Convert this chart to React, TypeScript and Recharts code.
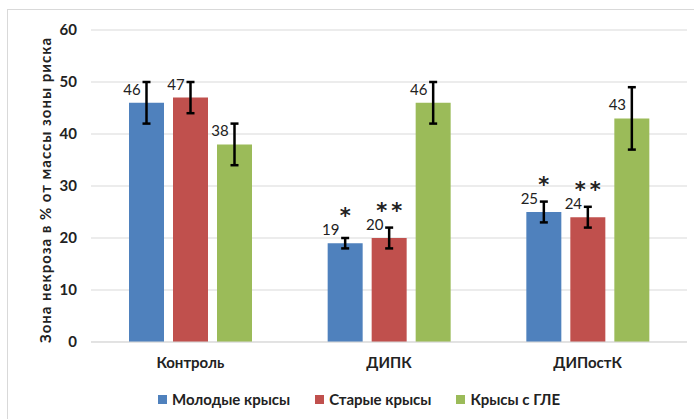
import { Bar, BarChart, CartesianGrid, ErrorBar, LabelList, Legend, XAxis, YAxis } from "recharts";

const categories = ["Контроль", "ДИПК", "ДИПостК"];
const young = [46, 19, 25];
const old = [47, 20, 24];
const gle = [38, 46, 43];
const youngErr = [4, 1, 2];
const oldErr = [3, 2, 2];
const gleErr = [4, 4, 6];
const youngSig = ["", "*", "*"];
const oldSig = ["", "**", "**"];
const gleSig = ["", "", ""];
const yTicks = [0, 10, 20, 30, 40, 50, 60];

const series = [
  { key: "young", name: "Молодые крысы", color: "#4F81BD" },
  { key: "old", name: "Старые крысы", color: "#C0504D" },
  { key: "gle", name: "Крысы с ГЛЕ", color: "#9BBB59" },
];

const data = categories.map((name, i) => ({
  name,
  young: young[i],
  youngErr: youngErr[i],
  youngSig: youngSig[i],
  old: old[i],
  oldErr: oldErr[i],
  oldSig: oldSig[i],
  gle: gle[i],
  gleErr: gleErr[i],
  gleSig: gleSig[i],
}));

const font = "Lato, 'Open Sans', sans-serif";

function ValueLabel(props: any) {
  const x = Number(props.x);
  const y = Number(props.y);
  return (
    <text x={x + 3} y={y - 8} textAnchor="middle" fontSize={15} fill="#222" fontFamily={font}>
      {props.value}
    </text>
  );
}

function SigLabel(props: any) {
  if (!props.value) return null;
  const x = Number(props.x) + Number(props.width) / 2;
  const y = Number(props.y);
  return (
    <text
      x={x + 2}
      y={y - 20}
      textAnchor="middle"
      fontSize={21}
      fontWeight={700}
      letterSpacing={4}
      fill="#222"
      fontFamily="'DejaVu Sans', sans-serif"
    >
      {props.value}
    </text>
  );
}

function LegendContent() {
  return (
    <div style={{ display: "flex", alignItems: "center", paddingLeft: 158, fontFamily: font, fontWeight: 700, fontSize: 15, color: "#222" }}>
      {series.map((s) => (
        <div key={s.key} style={{ display: "flex", alignItems: "center", marginRight: 25 }}>
          <span style={{ display: "inline-block", width: 9, height: 9, background: s.color, marginRight: 5 }} />
          <span>{s.name}</span>
        </div>
      ))}
    </div>
  );
}

export default function App() {
  return (
    <div style={{ position: "fixed", left: 0, top: 0, width: 694, height: 419, background: "#fff", overflow: "hidden" }}>
      <div style={{ position: "absolute", left: 7, top: 9, width: 700, height: 420, border: "1px solid #d9d9d9" }} />
      <div style={{ position: "absolute", left: 0, top: 0 }}>
        <BarChart
          width={694}
          height={419}
          data={data}
          margin={{ top: 30, right: 7, left: 0, bottom: 5 }}
          barSize={35}
          barGap={9}
        >
          <CartesianGrid vertical={false} stroke="#d9d9d9" />
          <XAxis
            dataKey="name"
            tickLine={false}
            axisLine={{ stroke: "#d9d9d9" }}
            height={48}
            tickMargin={9}
            tick={{ fill: "#222", fontSize: 15, fontWeight: 700, fontFamily: font }}
          />
          <YAxis
            domain={[0, 60]}
            ticks={yTicks}
            width={91}
            tickLine={false}
            axisLine={false}
            tickMargin={8}
            tick={{ fill: "#222", fontSize: 15, fontWeight: 700, fontFamily: font }}
            label={{
              value: "Зона некроза в % от массы зоны риска",
              angle: -90,
              position: "center",
              dx: 0,
              dy: 4,
              style: {
                fill: "#222",
                fontSize: 15,
                fontWeight: 700,
                fontFamily: font,
                textAnchor: "middle",
                letterSpacing: 1,
              },
            }}
          />
          <Legend verticalAlign="bottom" height={24} content={<LegendContent />} />
          {series.map((s) => (
            <Bar key={s.key} dataKey={s.key} name={s.name} fill={s.color} isAnimationActive={false}>
              <LabelList dataKey={s.key} content={<ValueLabel />} />
              <LabelList dataKey={s.key + "Sig"} content={<SigLabel />} />
              <ErrorBar dataKey={s.key + "Err"} width={4} strokeWidth={2.5} stroke="#000" direction="y" />
            </Bar>
          ))}
        </BarChart>
      </div>
    </div>
  );
}
